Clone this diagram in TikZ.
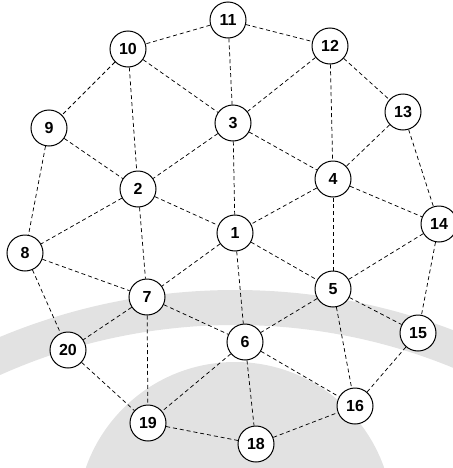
\documentclass[tikz,border=0pt]{standalone}
\usepackage{fontspec}
\setmainfont{Liberation Sans}
\definecolor{wmark}{RGB}{226,226,226}
\begin{document}
\begin{tikzpicture}[x=0.75pt,y=-0.75pt,
  vertex/.style={circle,draw=black,line width=0.75pt,fill=white,
    minimum size=27pt,inner sep=0pt,font=\fontsize{12}{14}\selectfont\bfseries},
  link/.style={draw=black,line width=0.55pt,dash pattern=on 3pt off 2.2pt}]
\useasboundingbox (0,0) rectangle (453,468);
% faint emblem in the background
\begin{scope}
  \clip (0,0) rectangle (453,468);
  \fill[wmark,even odd rule] (235,900) circle[radius=610] (235,900) circle[radius=575];
  \fill[wmark] (235,520) circle[radius=158];
\end{scope}
% vertices
\node[vertex] (n1)  at (235,233) {1};
\node[vertex] (n2)  at (138,189) {2};
\node[vertex] (n3)  at (233,123) {3};
\node[vertex] (n4)  at (333,179) {4};
\node[vertex] (n5)  at (333,289) {5};
\node[vertex] (n6)  at (245,342) {6};
\node[vertex] (n7)  at (147,297) {7};
\node[vertex] (n8)  at (25,253)  {8};
\node[vertex] (n9)  at (49,128)  {9};
\node[vertex] (n10) at (128,49)  {10};
\node[vertex] (n11) at (228,20)  {11};
\node[vertex] (n12) at (330,46)  {12};
\node[vertex] (n13) at (403,112) {13};
\node[vertex] (n14) at (439,224) {14};
\node[vertex] (n15) at (418,333) {15};
\node[vertex] (n16) at (355,406) {16};
\node[vertex] (n18) at (256,444) {18};
\node[vertex] (n19) at (148,423) {19};
\node[vertex] (n20) at (68,350)  {20};
% dashed links
\foreach \a/\b in {11/10,11/12,11/3,10/9,10/2,10/3,12/3,12/4,12/13,
  9/2,9/8,3/2,3/1,3/4,13/4,13/14,2/8,2/7,2/1,4/1,4/5,4/14,14/5,14/15,
  1/7,1/6,1/5,8/7,8/20,5/6,5/15,5/16,7/20,7/19,7/6,6/19,6/18,6/16,
  15/16,20/19,19/18,18/16}
  \draw[link] (n\a) -- (n\b);
\end{tikzpicture}
\end{document}
